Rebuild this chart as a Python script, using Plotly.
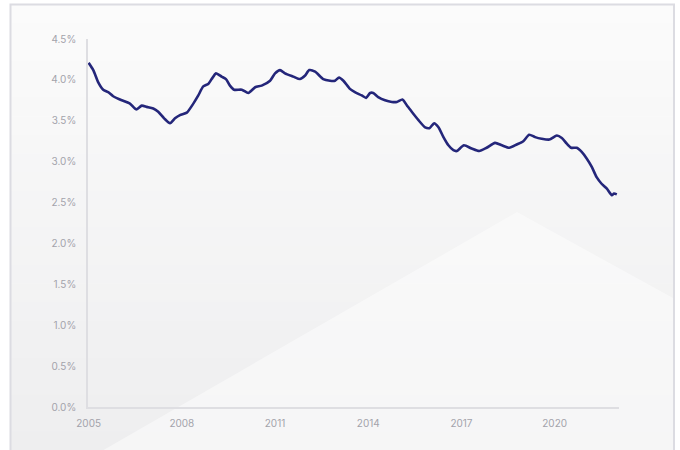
import plotly.graph_objects as go

# Data (decimal year, percent)
years = [2005.00, 2005.15, 2005.31, 2005.47, 2005.63, 2005.79, 2006.01, 2006.33, 2006.53, 2006.71,
         2006.87, 2007.08, 2007.24, 2007.43, 2007.62, 2007.78, 2007.94, 2008.16, 2008.37, 2008.53,
         2008.69, 2008.85, 2008.96, 2009.10, 2009.28, 2009.42, 2009.55, 2009.68, 2009.93, 2010.14,
         2010.36, 2010.57, 2010.84, 2011.00, 2011.16, 2011.32, 2011.59, 2011.80, 2011.96, 2012.10,
         2012.29, 2012.55, 2012.77, 2012.93, 2013.06, 2013.20, 2013.41, 2013.57, 2013.79, 2013.93,
         2014.06, 2014.16, 2014.32, 2014.54, 2014.76, 2014.92, 2015.10, 2015.24, 2015.40, 2015.61,
         2015.83, 2015.97, 2016.12, 2016.26, 2016.42, 2016.58, 2016.74, 2016.85, 2017.08, 2017.33,
         2017.57, 2017.81, 2018.08, 2018.30, 2018.54, 2018.78, 2018.99, 2019.18, 2019.37, 2019.58,
         2019.83, 2020.07, 2020.23, 2020.39, 2020.53, 2020.71, 2020.87, 2021.03, 2021.19, 2021.35,
         2021.51, 2021.68, 2021.84, 2021.91, 2022.00]
rates = [4.21, 4.12, 3.97, 3.88, 3.85, 3.80, 3.76, 3.71, 3.64, 3.685,
         3.67, 3.65, 3.61, 3.53, 3.47, 3.53, 3.57, 3.60, 3.71, 3.81,
         3.92, 3.95, 4.01, 4.08, 4.04, 4.01, 3.93, 3.88, 3.88, 3.84,
         3.91, 3.93, 3.99, 4.08, 4.12, 4.08, 4.04, 4.01, 4.05, 4.12,
         4.10, 4.01, 3.99, 3.99, 4.03, 3.99, 3.89, 3.85, 3.81, 3.78,
         3.84, 3.84, 3.79, 3.75, 3.73, 3.73, 3.76, 3.69, 3.61, 3.51,
         3.42, 3.41, 3.47, 3.42, 3.30, 3.20, 3.14, 3.13, 3.20, 3.16,
         3.13, 3.17, 3.23, 3.20, 3.17, 3.21, 3.25, 3.33, 3.30, 3.28,
         3.27, 3.32, 3.29, 3.22, 3.17, 3.17, 3.12, 3.04, 2.94, 2.81,
         2.73, 2.67, 2.59, 2.61, 2.60]

x_ticks = [2005, 2008, 2011, 2014, 2017, 2020]
x_tick_labels = ["2005", "2008", "2011", "2014", "2017", "2020"]
y_ticks = [0, 0.5, 1, 1.5, 2, 2.5, 3, 3.5, 4, 4.5]
y_tick_labels = ["0.0%", "0.5%", "1.0%", "1.5%", "2.0%", "2.5%", "3.0%", "3.5%", "4.0%", "4.5%"]

W, H = 680, 450
L, R, T, B = 88, 61, 39, 43
PW, PH = W - L - R, H - T - B


def px(x):
    return (x - L) / PW


def py(y):
    return (H - B - y) / PH


def lerp_hex(c1, c2, t):
    a = [int(c1[i:i + 2], 16) for i in (1, 3, 5)]
    b = [int(c2[i:i + 2], 16) for i in (1, 3, 5)]
    return "#" + "".join(f"{round(a[k] + (b[k] - a[k]) * t):02x}" for k in range(3))


shapes = []
# vertical gradient background inside the frame
N = 24
top, bot = 5, 450
for i in range(N):
    y0 = top + (bot - top) * i / N
    y1 = top + (bot - top) * (i + 1) / N + 0.5
    shapes.append(dict(type="rect", xref="paper", yref="paper", layer="below",
                       x0=px(11), x1=px(673), y0=py(y1), y1=py(y0),
                       fillcolor=lerp_hex("#fbfbfb", "#eeeeef", i / (N - 1)), line=dict(width=0)))
# light triangle
tri = [(517, 212), (673, 298), (673, 452), (100, 452)]
path = "M " + " L ".join(f"{px(a)},{py(b)}" for a, b in tri) + " Z"
shapes.append(dict(type="path", xref="paper", yref="paper", layer="below", path=path,
                   fillcolor="rgba(255,255,255,0.45)", line=dict(width=0)))
# frame
shapes.append(dict(type="rect", xref="paper", yref="paper", layer="below",
                   x0=px(10.5), x1=px(674), y0=py(470), y1=py(4.5),
                   fillcolor="rgba(0,0,0,0)", line=dict(color="#dcdce2", width=2)))

fig = go.Figure()
fig.add_trace(go.Scatter(x=years, y=rates, mode="lines",
                         line=dict(color="#24267a", width=2.6, shape="spline", smoothing=0.6),
                         hoverinfo="x+y", showlegend=False))

font = dict(family="Inter, Lato, sans-serif", size=10, color="#a3a3ab")
fig.update_layout(
    width=W, height=H,
    margin=dict(l=L, r=R, t=T, b=B, pad=0),
    paper_bgcolor="#ffffff",
    plot_bgcolor="rgba(0,0,0,0)",
    shapes=shapes,
    showlegend=False,
    xaxis=dict(range=[2005 - 0.02, 2005 - 0.02 + PW / 31.07], tickvals=x_ticks, ticktext=x_tick_labels,
               showgrid=False, zeroline=False, showline=True, linecolor="#dedee2", linewidth=1.5,
               ticks="outside", ticklen=6, tickcolor="rgba(0,0,0,0)", tickfont=font, fixedrange=True),
    yaxis=dict(range=[0, 4.5], tickvals=y_ticks, ticktext=y_tick_labels,
               showgrid=False, zeroline=False, showline=True, linecolor="#dedee2", linewidth=1.5,
               ticks="outside", ticklen=8, tickcolor="rgba(0,0,0,0)", tickfont=font, fixedrange=True),
)

fig.write_html("out.html", config={"displayModeBar": False},
               post_script="document.body.style.margin='0';document.body.style.overflow='hidden';")
